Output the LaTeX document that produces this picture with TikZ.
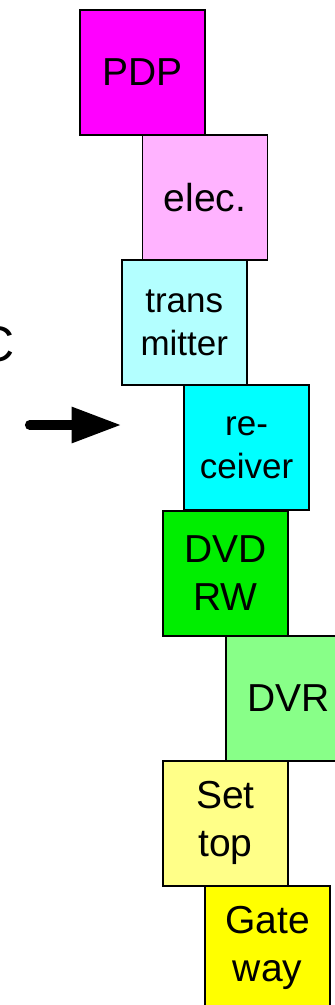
\documentclass[tikz,border=0pt]{standalone}
\usepackage{fontspec}
\setmainfont{Liberation Sans}
\usetikzlibrary{arrows.meta}
\definecolor{cPDP}{HTML}{FF00FF}
\definecolor{cElec}{HTML}{FFB3FF}
\definecolor{cTrans}{HTML}{B3FFFF}
\definecolor{cRec}{HTML}{00FFFF}
\definecolor{cDVD}{HTML}{00EE00}
\definecolor{cDVR}{HTML}{88FF88}
\definecolor{cSet}{HTML}{FFFF88}
\definecolor{cGate}{HTML}{FFFF00}
\tikzset{
  blk/.style={draw=black, line width=1.5pt, minimum width=125pt, minimum height=125pt,
    inner sep=0pt, anchor=north west, align=center, font=\fontsize{39}{48}\selectfont},
  blksmall/.style={blk, font=\fontsize{35}{43}\selectfont},
}
\begin{document}
\begin{tikzpicture}[x=1pt,y=-1pt]
\useasboundingbox (0,0) rectangle (335,1005);
\clip (0,0) rectangle (335,1005);
\node[blk, fill=cPDP] (pdp) at (79,9) {PDP};
\node[blk, fill=cElec] (elec) at (141.7,134) {elec.};
\node[blksmall, fill=cTrans] (trans) at (121,259.3) {trans\\mitter};
\node[blksmall, fill=cRec] (rec) at (183.3,384.3) {re-\\ceiver};
\node[blk, fill=cDVD] (dvd) at (162.3,510) {DVD\\RW};
\node[blk, fill=cDVR] (dvr) at (225,635) {DVR};
\node[blk, fill=cSet] (set) at (162.3,760) {Set\\top};
\node[blk, fill=cGate] (gate) at (204.3,885) {Gate\\way};
\node[inner sep=0pt, anchor=base west, font=\fontsize{50}{60}\selectfont] (c) at (-22,361) {C};
\coordinate (a1) at (29.6,425);
\coordinate (a2) at (121.5,425);
\draw[line width=9.3pt, line cap=round, -{Triangle[length=50pt,width=34pt]}] (a1) -- (a2);
\end{tikzpicture}
\end{document}
